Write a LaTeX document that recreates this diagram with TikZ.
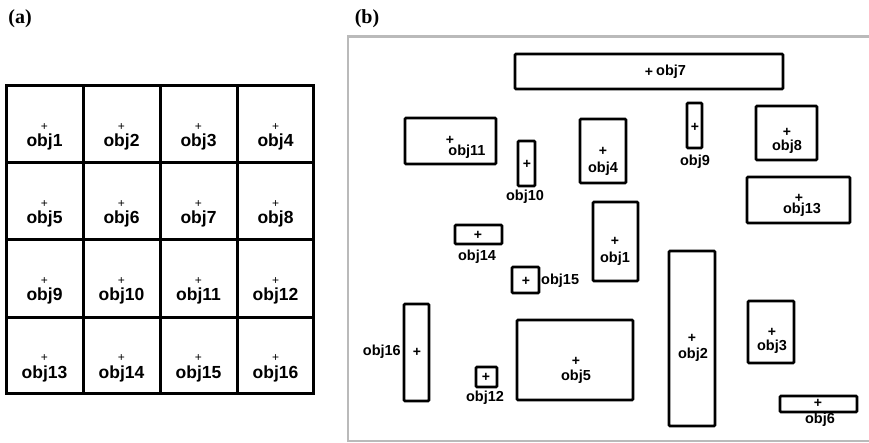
\documentclass[tikz,border=0pt]{standalone}
\usepackage{fontspec}
\setmainfont{Liberation Sans}
\newfontfamily\serifbf{Liberation Serif}
\begin{document}
\begin{tikzpicture}[x=1pt,y=-1pt,
  gridline/.style={line width=3pt,black},
  objbox/.style={draw=black,line width=2.6pt,rounded corners=1pt},
  glab/.style={font=\fontsize{17.5}{17.5}\selectfont\bfseries,inner sep=0pt,anchor=base},
  gplus/.style={font=\fontsize{12}{12}\selectfont,inner sep=0pt},
  rlab/.style={font=\fontsize{14.5}{14.5}\selectfont\bfseries,inner sep=0pt},
  rplus/.style={font=\fontsize{14}{14}\selectfont\bfseries,inner sep=0pt},
  panlab/.style={font=\fontsize{20}{20}\selectfont\serifbf\bfseries,inner sep=0pt}]
\useasboundingbox (0,0) rectangle (869,443);
% panel labels
\node[panlab] (la) at (20,19) {(a)};
\node[panlab] (lb) at (367,19) {(b)};
% grid (a)
\draw[gridline] (6,86) rectangle (313,393);
\foreach \x in {83,160,237} \draw[gridline] (\x,86) -- (\x,393);
\foreach \y in {163,240,317} \draw[gridline] (6,\y) -- (313,\y);
\foreach \r in {0,1,2,3}{
  \foreach \c in {0,1,2,3}{
    \pgfmathtruncatemacro{\n}{\r*4+\c+1}
    \pgfmathsetmacro{\cx}{44.5+77*\c}
    \pgfmathsetmacro{\py}{127+77*\r}
    \pgfmathsetmacro{\ty}{147+77*\r}
    \node[gplus] (gp\n) at (\cx,\py) {+};
    \node[glab] (g\n) at (\cx,\ty) {obj\n};
  }
}
% panel (b) frame
\draw[line width=2.6pt,color=black!27] (871,36.5) -- (348,36.5) -- (348,441) -- (871,441);
% objects
\draw[objbox] (515,54) rectangle (783,89);
\node[rplus] (p7) at (649,72) {+};
\node[rlab,anchor=west] (o7) at (656,72) {obj7};

\draw[objbox] (405,118) rectangle (496,164);
\node[rplus] (p11) at (450,140) {+};
\node[rlab] (o11) at (467,152) {obj11};

\draw[objbox] (518,141) rectangle (535,186);
\node[rplus] (p10) at (527,164) {+};
\node[rlab] (o10) at (525,197) {obj10};

\draw[objbox] (580,119) rectangle (626,183);
\node[rplus] (p4) at (603,151) {+};
\node[rlab] (o4) at (603,169) {obj4};

\draw[objbox] (687,103) rectangle (702,148);
\node[rplus] (p9) at (695,127) {+};
\node[rlab] (o9) at (695,162) {obj9};

\draw[objbox] (756,106) rectangle (817,160);
\node[rplus] (p8) at (787,132) {+};
\node[rlab] (o8) at (787,147) {obj8};

\draw[objbox] (747,177) rectangle (850,223);
\node[rplus] (p13) at (799,198) {+};
\node[rlab] (o13) at (802,210) {obj13};

\draw[objbox] (593,202) rectangle (638,281);
\node[rplus] (p1) at (615,241) {+};
\node[rlab] (o1) at (615,259) {obj1};

\draw[objbox] (455,225) rectangle (502,244);
\node[rplus] (p14) at (478,235) {+};
\node[rlab] (o14) at (477,257) {obj14};

\draw[objbox] (512,267) rectangle (539,293);
\node[rplus] (p15) at (526,281) {+};
\node[rlab,anchor=west] (o15) at (541,281) {obj15};

\draw[objbox] (404,304) rectangle (429,401);
\node[rplus] (p16) at (417,352) {+};
\node[rlab,anchor=east] (o16) at (401,352) {obj16};

\draw[objbox] (476,367) rectangle (497,387);
\node[rplus] (p12) at (486,377) {+};
\node[rlab] (o12) at (485,398) {obj12};

\draw[objbox] (517,320) rectangle (633,400);
\node[rplus] (p5) at (576,361) {+};
\node[rlab] (o5) at (576,377) {obj5};

\draw[objbox] (669,251) rectangle (715,426);
\node[rplus] (p2) at (692,338) {+};
\node[rlab] (o2) at (693,355) {obj2};

\draw[objbox] (748,301) rectangle (794,363);
\node[rplus] (p3) at (772,332) {+};
\node[rlab] (o3) at (772,347) {obj3};

\draw[objbox] (780,396) rectangle (857,412);
\node[rplus] (p6) at (818,403) {+};
\node[rlab] (o6) at (820,420) {obj6};
\end{tikzpicture}
\end{document}
